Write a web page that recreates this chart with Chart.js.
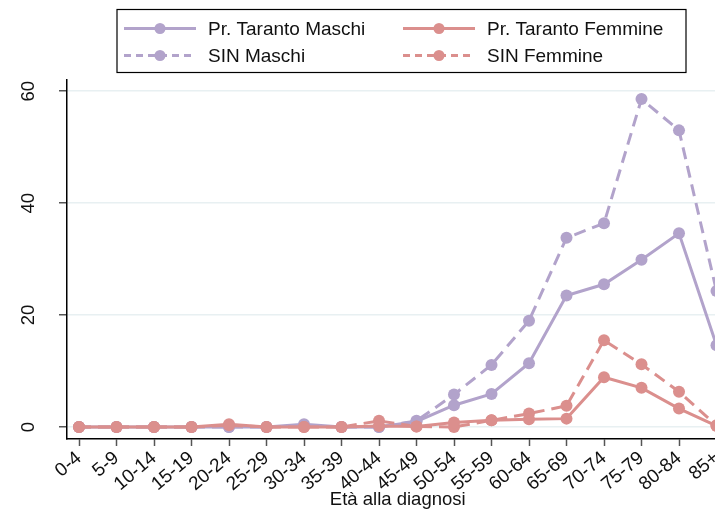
<!DOCTYPE html>
<html>
<head>
<meta charset="utf-8">
<script src="https://cdn.jsdelivr.net/npm/chart.js@4"></script>
<style>
  html, body { margin: 0; padding: 0; background: #fff; overflow: hidden; }
  #wrap { position: absolute; left: 0; top: 0; }
</style>
</head>
<body>
<div id="wrap"><canvas id="incidenceChart" width="760" height="509"></canvas></div>
<script>
// Age groups (x categories)
const ageGroups = ["0-4", "5-9", "10-14", "15-19", "20-24", "25-29", "30-34", "35-39", "40-44",
  "45-49", "50-54", "55-59", "60-64", "65-69", "70-74", "75-79", "80-84", "85+"];

// Series values
const tarantoMaschi = [0, 0, 0, 0, 0, 0, 0.5, 0, 0, 1.0, 3.9, 5.9, 11.4, 23.5, 25.5, 29.9, 34.6, 14.6];
const tarantoFemmine = [0, 0, 0, 0, 0.5, 0, 0, 0, 0.2, 0.1, 0.8, 1.2, 1.4, 1.5, 8.9, 7.0, 3.3, 0.2];
const sinMaschi = [0, 0, 0, 0, 0, 0, 0.2, 0, 0, 1.1, 5.8, 11.1, 19.0, 33.8, 36.4, 58.6, 53.0, 24.3];
const sinFemmine = [0, 0, 0, 0, 0.3, 0, 0, 0, 1.1, 0.1, 0, 1.2, 2.4, 3.8, 15.5, 11.2, 6.3, 0.3];

// Y tick labels
const yTickValues = [0, 20, 40, 60];

const PURPLE = "#b2a3cb";
const RED = "#db8f8d";
const TEXT = "#111";
const FONT = "'Liberation Sans', Arial, sans-serif";

function toPoints(values) {
  return values.map((v, i) => ({ x: i, y: v }));
}

/* -------------------- plugins -------------------- */

// y tick labels are rotated 90 degrees (Stata style)
const rotatedYLabels = {
  id: "rotatedYLabels",
  afterDraw(chart) {
    const ctx = chart.ctx;
    const scale = chart.scales.y;
    ctx.save();
    ctx.fillStyle = TEXT;
    ctx.font = "18.5px " + FONT;
    ctx.textAlign = "center";
    ctx.textBaseline = "middle";
    yTickValues.forEach(v => {
      const py = scale.getPixelForValue(v);
      ctx.save();
      ctx.translate(29, py);
      ctx.rotate(-Math.PI / 2);
      ctx.fillText(String(v), 0, 0);
      ctx.restore();
    });
    ctx.restore();
  }
};

// boxed legend with line + marker samples, two columns
const boxedLegend = {
  id: "boxedLegend",
  afterDraw(chart) {
    const ctx = chart.ctx;
    const entries = chart.options.plugins.boxedLegend.entries;
    ctx.save();
    ctx.strokeStyle = "#000";
    ctx.lineWidth = 1.2;
    ctx.strokeRect(117, 9.5, 569, 63);

    const cols = [124, 403];
    const rows = [28.5, 55.5];
    ctx.font = "19px " + FONT;
    ctx.textBaseline = "middle";
    entries.forEach((e, i) => {
      const ds = chart.data.datasets[e];
      const x = cols[i % 2];
      const y = rows[Math.floor(i / 2)];
      ctx.strokeStyle = ds.borderColor;
      ctx.lineWidth = 3;
      ctx.setLineDash(ds.borderDash && ds.borderDash.length ? [7, 5] : []);
      ctx.beginPath();
      ctx.moveTo(x, y);
      ctx.lineTo(x + 72, y);
      ctx.stroke();
      ctx.setLineDash([]);
      ctx.fillStyle = ds.borderColor;
      ctx.beginPath();
      ctx.arc(x + 36, y, 5.5, 0, Math.PI * 2);
      ctx.fill();
      ctx.fillStyle = TEXT;
      ctx.fillText(ds.label, x + 84, y + 1);
    });
    ctx.restore();
  }
};

/* -------------------- chart -------------------- */

function makeDataset(label, values, color, dashed) {
  return {
    label,
    data: toPoints(values),
    borderColor: color,
    backgroundColor: color,
    borderWidth: 3,
    borderDash: dashed ? [12, 7] : [],
    pointRadius: 6,
    pointHoverRadius: 6,
    pointBorderWidth: 0,
    pointBackgroundColor: color,
    tension: 0,
    fill: false
  };
}

window.addEventListener("DOMContentLoaded", () => {
  const ctx = document.getElementById("incidenceChart").getContext("2d");

  new Chart(ctx, {
    type: "line",
    data: {
      datasets: [
        makeDataset("Pr. Taranto Femmine", tarantoFemmine, RED, false),
        makeDataset("SIN Femmine", sinFemmine, RED, true),
        makeDataset("Pr. Taranto Maschi", tarantoMaschi, PURPLE, false),
        makeDataset("SIN Maschi", sinMaschi, PURPLE, true)
      ]
    },
    options: {
      responsive: false,
      animation: false,
      layout: {
        padding: { top: 80, right: 31.5, bottom: 0, left: 0 }
      },
      plugins: {
        legend: { display: false },
        tooltip: { enabled: false },
        boxedLegend: { entries: [2, 0, 3, 1] }
      },
      scales: {
        x: {
          type: "linear",
          min: -0.32,
          max: 17.32,
          afterFit(scale) { scale.height = 70; },
          grid: {
            drawOnChartArea: false,
            tickLength: 7,
            tickColor: "#555",
            tickWidth: 1.5
          },
          border: { color: "#000", width: 1.5 },
          ticks: {
            stepSize: 1,
            includeBounds: false,
            autoSkip: false,
            minRotation: 40,
            maxRotation: 40,
            padding: 1,
            color: TEXT,
            font: { family: FONT, size: 19 },
            callback: v => ageGroups[v] ?? ""
          },
          title: {
            display: true,
            text: "Età alla diagnosi",
            color: TEXT,
            font: { family: FONT, size: 18.5, lineHeight: 1 },
            padding: 0
          }
        },
        y: {
          min: -2.14,
          max: 62,
          afterFit(scale) { scale.width = 67; },
          grid: {
            color: "#e8f0f2",
            lineWidth: 1.5,
            tickLength: 8,
            tickColor: "#555",
            tickWidth: 1.5
          },
          border: { color: "#000", width: 1.5 },
          ticks: {
            display: false,
            stepSize: 20,
            includeBounds: false
          }
        }
      }
    },
    plugins: [rotatedYLabels, boxedLegend]
  });
});
</script>
</body>
</html>
